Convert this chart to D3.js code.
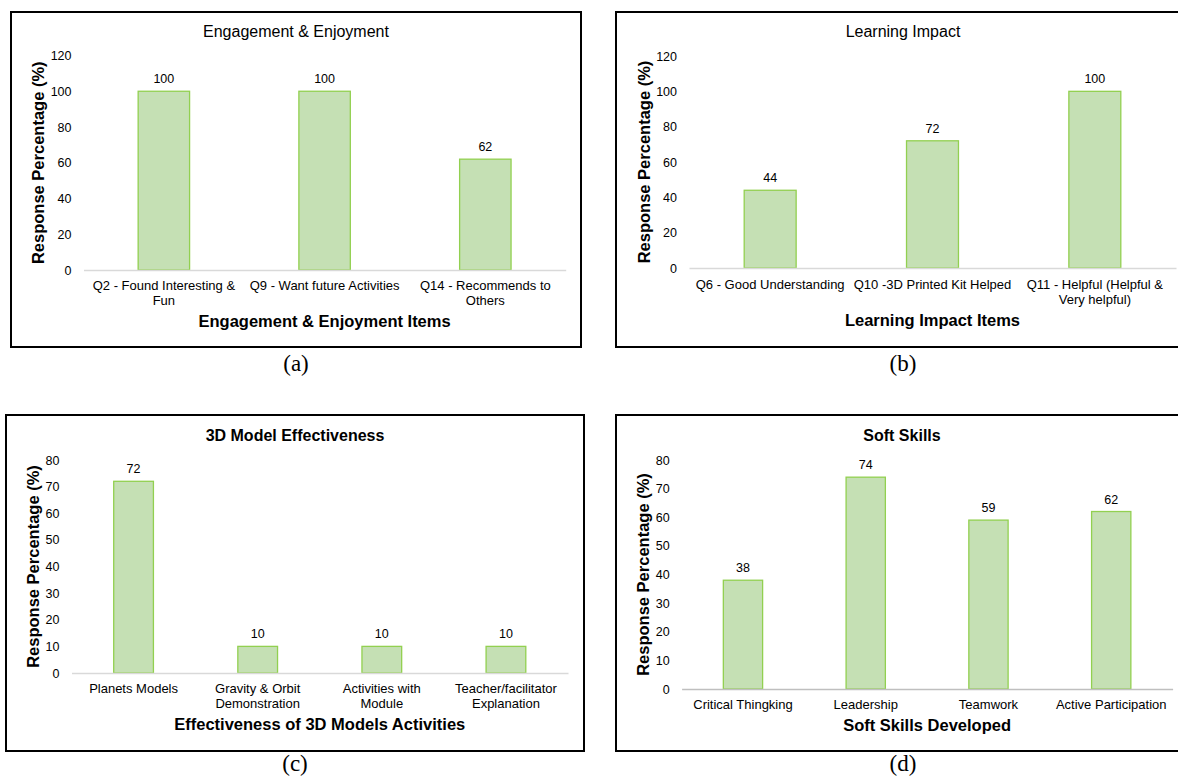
<!DOCTYPE html>
<html>
<head>
<meta charset="utf-8">
<script src="https://cdn.jsdelivr.net/npm/d3@7"></script>
<style>
  body { margin: 0; background: #fff; }
  svg { display: block; }
  text { font-family: "Liberation Sans", Arial, sans-serif; fill: #000; }
</style>
</head>
<body>
<svg id="chart" width="1178" height="778"></svg>
<script>
// data
var engagementItems = ["Q2 - Found Interesting & Fun", "Q9 - Want future Activities", "Q14 - Recommends to Others"]
var engagementValues = [100, 100, 62]

var learningItems = ["Q6 - Good Understanding", "Q10 -3D Printed Kit Helped", "Q11 - Helpful (Helpful & Very helpful)"]
var learningValues = [44, 72, 100]

var modelItems = ["Planets Models", "Gravity & Orbit Demonstration", "Activities with Module", "Teacher/facilitator Explanation"]
var modelValues = [72, 10, 10, 10]

var softItems = ["Critical Thingking", "Leadership", "Teamwork", "Active Participation"]
var softValues = [38, 74, 59, 62]

var ticks120 = [0, 20, 40, 60, 80, 100, 120]
var ticks80 = [0, 10, 20, 30, 40, 50, 60, 70, 80]

var svg = d3.select('#chart')

// layout for every panel
var panels = [
  { title: "Engagement & Enjoyment", titleBold: false, xTitle: "Engagement & Enjoyment Items",
    items: engagementItems, values: engagementValues, ticks: ticks120, caption: "(a)",
    frame: [11, 12, 570, 335], x0: 83.5, x1: 565.7, yTop: 55.5, yBot: 270, wrapW: 158,
    titleX: 296, titleY: 37, yTitleX: 38, catY: 290, xTitleY: 327, capY: 371, axisColor: "#D9D9D9" },
  { title: "Learning Impact", titleBold: false, xTitle: "Learning Impact Items",
    items: learningItems, values: learningValues, ticks: ticks120, caption: "(b)",
    frame: [616, 12, 574, 335], x0: 689, x1: 1176, yTop: 56, yBot: 268, wrapW: 164,
    titleX: 903, titleY: 37, yTitleX: 644, catY: 289, xTitleY: 326, capY: 371, axisColor: "#D9D9D9" },
  { title: "3D Model Effectiveness", titleBold: true, xTitle: "Effectiveness of 3D Models Activities",
    items: modelItems, values: modelValues, ticks: ticks80, caption: "(c)",
    frame: [6, 415, 578, 336], x0: 71.5, x1: 568, yTop: 460, yBot: 673, wrapW: 112,
    titleX: 295, titleY: 441, yTitleX: 33, catY: 693, xTitleY: 730, capY: 771, axisColor: "#D9D9D9" },
  { title: "Soft Skills", titleBold: true, xTitle: "Soft Skills  Developed",
    items: softItems, values: softValues, ticks: ticks80, caption: "(d)",
    frame: [616, 415, 574, 336], x0: 681.6, x1: 1172.6, yTop: 460, yBot: 689, wrapW: 130,
    titleX: 902, titleY: 441, yTitleX: 643, catY: 709, xTitleY: 731, capY: 771, axisColor: "#BFBFBF" }
]

function wrap(textSel, width) {
  textSel.each(function () {
    var text = d3.select(this)
    var words = text.text().split(/\s+/)
    var y = text.attr('y')
    text.text(null)
    var line = []
    var lineNo = 0
    var tspan = text.append('tspan').attr('x', 0).attr('y', y).attr('dy', '0em')
    words.forEach(function (w) {
      line.push(w)
      tspan.text(line.join(' '))
      if (tspan.node().getComputedTextLength() > width && line.length > 1) {
        line.pop()
        tspan.text(line.join(' '))
        line = [w]
        lineNo++
        tspan = text.append('tspan').attr('x', 0).attr('y', y)
          .attr('dy', (lineNo * 1.17) + 'em').text(w)
      }
    })
  })
}

panels.forEach(function (p) {
  var g = svg.append('g')
  var f = p.frame

  // frame
  g.append('rect')
    .attr('x', f[0]).attr('y', f[1]).attr('width', f[2]).attr('height', f[3])
    .attr('fill', 'none').attr('stroke', '#000').attr('stroke-width', 2)

  var x = d3.scaleBand().domain(p.items).range([p.x0, p.x1])
    .paddingInner(0.68).paddingOuter(0.34)
  var y = d3.scaleLinear().domain([0, d3.max(p.ticks)]).range([p.yBot, p.yTop])

  // y axis (labels only)
  var yAxis = g.append('g')
    .attr('transform', 'translate(' + p.x0 + ',0)')
    .call(d3.axisLeft(y).tickValues(p.ticks).tickSize(0).tickPadding(12))
  yAxis.select('.domain').remove()
  yAxis.selectAll('text').attr('font-size', 12.5).attr('font-family', '"Liberation Sans", Arial, sans-serif')

  // bars
  g.selectAll('rect.bar')
    .data(p.values)
    .enter().append('rect')
      .attr('class', 'bar')
      .attr('x', function (d, i) { return x(p.items[i]) })
      .attr('y', function (d) { return y(d) })
      .attr('width', x.bandwidth())
      .attr('height', function (d) { return y(0) - y(d) })
      .attr('fill', '#C5E0B4')
      .attr('stroke', '#92D050')
      .attr('stroke-width', 1.3)

  // value labels
  g.selectAll('text.val')
    .data(p.values)
    .enter().append('text')
      .attr('class', 'val')
      .attr('x', function (d, i) { return x(p.items[i]) + x.bandwidth() / 2 })
      .attr('y', function (d) { return y(d) - 8 })
      .attr('text-anchor', 'middle')
      .attr('font-size', 12.5)
      .text(function (d) { return d })

  // x axis
  var xAxis = g.append('g')
    .attr('transform', 'translate(0,' + p.yBot + ')')
    .call(d3.axisBottom(x).tickSize(0).tickSizeOuter(0).tickPadding(0))
  xAxis.select('.domain').attr('stroke', p.axisColor).attr('stroke-width', 1.5)
  xAxis.selectAll('text')
    .attr('font-size', 13)
    .attr('font-family', '"Liberation Sans", Arial, sans-serif')
    .attr('y', p.catY - p.yBot)
    .attr('dy', 0)
    .call(wrap, p.wrapW)

  // titles
  g.append('text')
    .attr('x', p.titleX).attr('y', p.titleY)
    .attr('text-anchor', 'middle')
    .attr('font-size', 16)
    .attr('font-weight', p.titleBold ? 'bold' : 'normal')
    .text(p.title)

  g.append('text')
    .attr('x', (p.x0 + p.x1) / 2).attr('y', p.xTitleY)
    .attr('text-anchor', 'middle')
    .attr('font-size', 16.5)
    .attr('font-weight', 'bold')
    .text(p.xTitle)

  g.append('text')
    .attr('transform', 'translate(' + (p.yTitleX + 6) + ',' + ((p.yTop + p.yBot) / 2) + ') rotate(-90)')
    .attr('text-anchor', 'middle')
    .attr('font-size', 16.5)
    .attr('font-weight', 'bold')
    .text('Response Percentage (%)')

  // panel caption
  g.append('text')
    .attr('x', f[0] + f[2] / 2).attr('y', p.capY)
    .attr('text-anchor', 'middle')
    .attr('font-size', 23)
    .style('font-family', '"Liberation Serif", "DejaVu Serif", serif')
    .text(p.caption)
})
</script>
</body>
</html>
